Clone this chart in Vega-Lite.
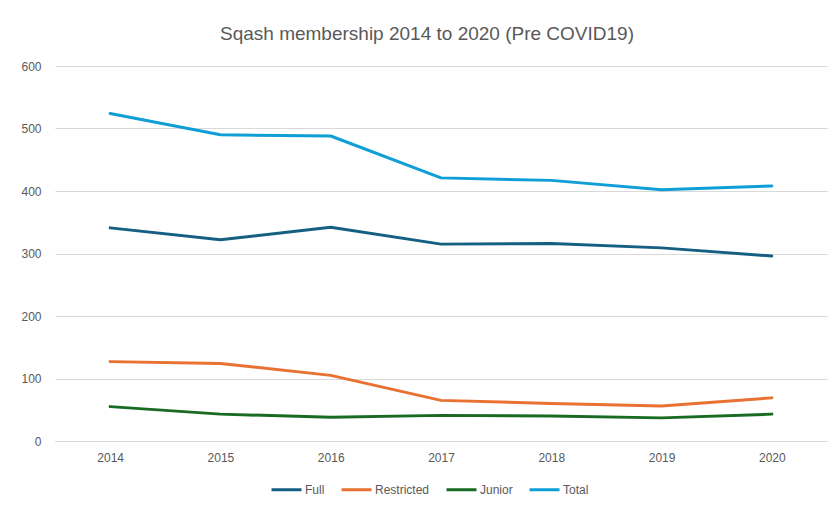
{
  "$schema": "https://vega.github.io/schema/vega-lite/v6.json",
  "width": 772,
  "height": 375,
  "autosize": "none",
  "padding": {"left": 55, "top": 66, "right": 10, "bottom": 65},
  "background": "white",
  "title": {
    "text": "Sqash membership 2014 to 2020 (Pre COVID19)",
    "font": "Liberation Sans",
    "fontSize": 19,
    "fontWeight": "normal",
    "color": "#595959",
    "anchor": "middle",
    "dx": -14,
    "offset": 16
  },
  "config": {
    "view": {"stroke": null},
    "font": "Liberation Sans"
  },
  "data": {
    "values": [
      {"year": "2014", "series": "Full", "value": 341},
      {"year": "2015", "series": "Full", "value": 322},
      {"year": "2016", "series": "Full", "value": 342},
      {"year": "2017", "series": "Full", "value": 315},
      {"year": "2018", "series": "Full", "value": 316},
      {"year": "2019", "series": "Full", "value": 309},
      {"year": "2020", "series": "Full", "value": 296},
      {"year": "2014", "series": "Restricted", "value": 127},
      {"year": "2015", "series": "Restricted", "value": 124},
      {"year": "2016", "series": "Restricted", "value": 105},
      {"year": "2017", "series": "Restricted", "value": 65},
      {"year": "2018", "series": "Restricted", "value": 60},
      {"year": "2019", "series": "Restricted", "value": 56},
      {"year": "2020", "series": "Restricted", "value": 69},
      {"year": "2014", "series": "Junior", "value": 55},
      {"year": "2015", "series": "Junior", "value": 43},
      {"year": "2016", "series": "Junior", "value": 38},
      {"year": "2017", "series": "Junior", "value": 41},
      {"year": "2018", "series": "Junior", "value": 40},
      {"year": "2019", "series": "Junior", "value": 37},
      {"year": "2020", "series": "Junior", "value": 43},
      {"year": "2014", "series": "Total", "value": 524},
      {"year": "2015", "series": "Total", "value": 490},
      {"year": "2016", "series": "Total", "value": 488},
      {"year": "2017", "series": "Total", "value": 421},
      {"year": "2018", "series": "Total", "value": 417},
      {"year": "2019", "series": "Total", "value": 402},
      {"year": "2020", "series": "Total", "value": 408}
    ]
  },
  "mark": {"type": "line", "strokeWidth": 3, "strokeCap": "round", "strokeJoin": "round"},
  "encoding": {
    "x": {
      "field": "year",
      "type": "ordinal",
      "title": null,
      "scale": {"type": "point", "padding": 0.5},
      "axis": {
        "labelAngle": 0,
        "domain": true,
        "domainColor": "#d9d9d9",
        "ticks": false,
        "grid": false,
        "labelFontSize": 12,
        "labelColor": "#595959",
        "labelPadding": 11
      }
    },
    "y": {
      "field": "value",
      "type": "quantitative",
      "title": null,
      "scale": {"domain": [0, 600], "nice": false},
      "axis": {
        "values": [0, 100, 200, 300, 400, 500, 600],
        "domain": false,
        "ticks": false,
        "grid": true,
        "gridColor": "#d9d9d9",
        "gridWidth": 1,
        "labelFontSize": 12,
        "labelColor": "#595959",
        "labelPadding": 14
      }
    },
    "color": {
      "field": "series",
      "type": "nominal",
      "title": null,
      "sort": ["Full", "Restricted", "Junior", "Total"],
      "scale": {
        "domain": ["Full", "Restricted", "Junior", "Total"],
        "range": ["#156082", "#E97132", "#196B24", "#0F9ED5"]
      },
      "legend": {
        "orient": "none",
        "direction": "horizontal",
        "legendX": 215,
        "legendY": 407,
        "symbolType": "stroke",
        "symbolSize": 900,
        "symbolStrokeWidth": 3,
        "labelFontSize": 12,
        "labelColor": "#595959",
        "labelOffset": 2,
        "columnPadding": 10
      }
    }
  }
}
